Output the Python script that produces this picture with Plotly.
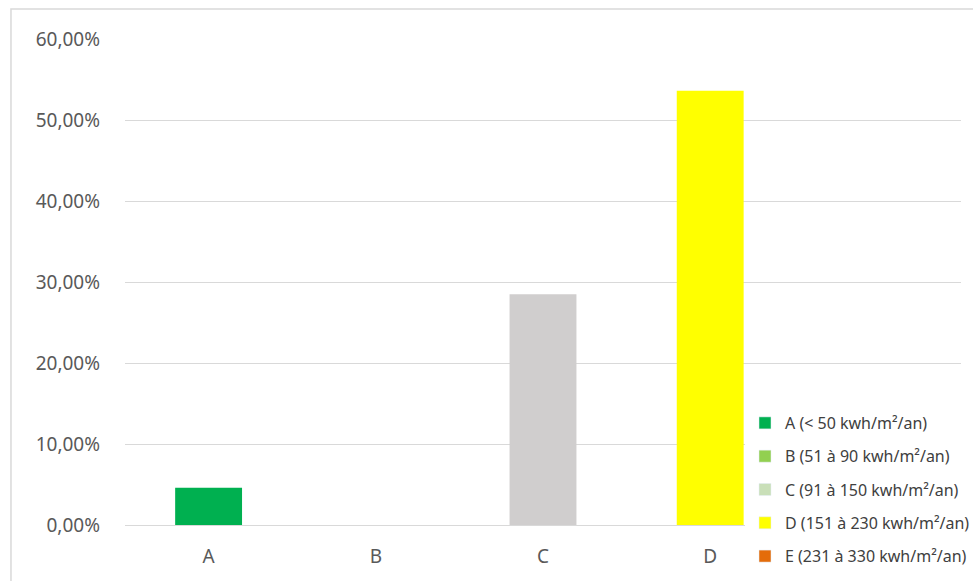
import plotly.graph_objects as go

categories = ["A", "B", "C", "D", "E"]
values = [0.046, 0.0, 0.285, 0.536, 0.0]
bar_colors = ["#00B050", "#92D050", "#D0CECE", "#FFFF00", "#E46C0A"]
legend_names = ["A (< 50 kwh/m²/an)", "B (51 à 90 kwh/m²/an)", "C (91 à 150 kwh/m²/an)",
                "D (151 à 230 kwh/m²/an)", "E (231 à 330 kwh/m²/an)"]
legend_colors = ["#00B050", "#92D050", "#C9DFB8", "#FFFF00", "#E46C0A"]
shown_ticks = ["A", "B", "C", "D"]

fig = go.Figure()
fig.add_trace(go.Bar(x=categories, y=values, marker=dict(color=bar_colors, line=dict(width=0)),
                     showlegend=False, hoverinfo="skip"))
for i, (n, c) in enumerate(zip(legend_names, legend_colors)):
    fig.add_trace(go.Bar(x=[None], y=[None], name=n, marker=dict(color=c),
                         legendgroup=f"g{i}", showlegend=True))

fig.update_layout(
    width=973, height=581,
    margin=dict(l=125, r=12, t=39, b=56, autoexpand=False),
    paper_bgcolor="white", plot_bgcolor="white",
    separators=", ",
    bargap=0.6,
    font=dict(family="Noto Sans", color="#595959"),
    xaxis=dict(type="category", categoryorder="array", categoryarray=categories,
               tickvals=shown_ticks, ticktext=shown_ticks,
               showgrid=False, showline=False, ticks="", ticklabelstandoff=18,
               tickfont=dict(size=19, color="#595959")),
    yaxis=dict(range=[0, 0.6], dtick=0.1, tickformat=".2%", showgrid=True, gridcolor="#D9D9D9",
               gridwidth=1, zeroline=True, zerolinecolor="#D9D9D9", zerolinewidth=1,
               showline=False, ticks="", ticklabelstandoff=24,
               tickfont=dict(size=19, color="#595959")),
    legend=dict(x=(745 - 125) / 836, xanchor="left", y=0.2449, yanchor="top", bgcolor="white",
                traceorder="grouped", tracegroupgap=9.5,
                font=dict(size=16, color="#404040", family="Noto Sans")),
    shapes=[dict(type="rect", xref="paper", yref="paper", x0=-0.1364, x1=1.2, y0=-0.3, y1=1.0617,
                 line=dict(color="#D9D9D9", width=1.5), fillcolor="rgba(0,0,0,0)", layer="below")],
)

fig.write_html("out.html", config={"displayModeBar": False},
               post_script="document.body.style.margin='0';document.body.style.overflow='hidden';")
